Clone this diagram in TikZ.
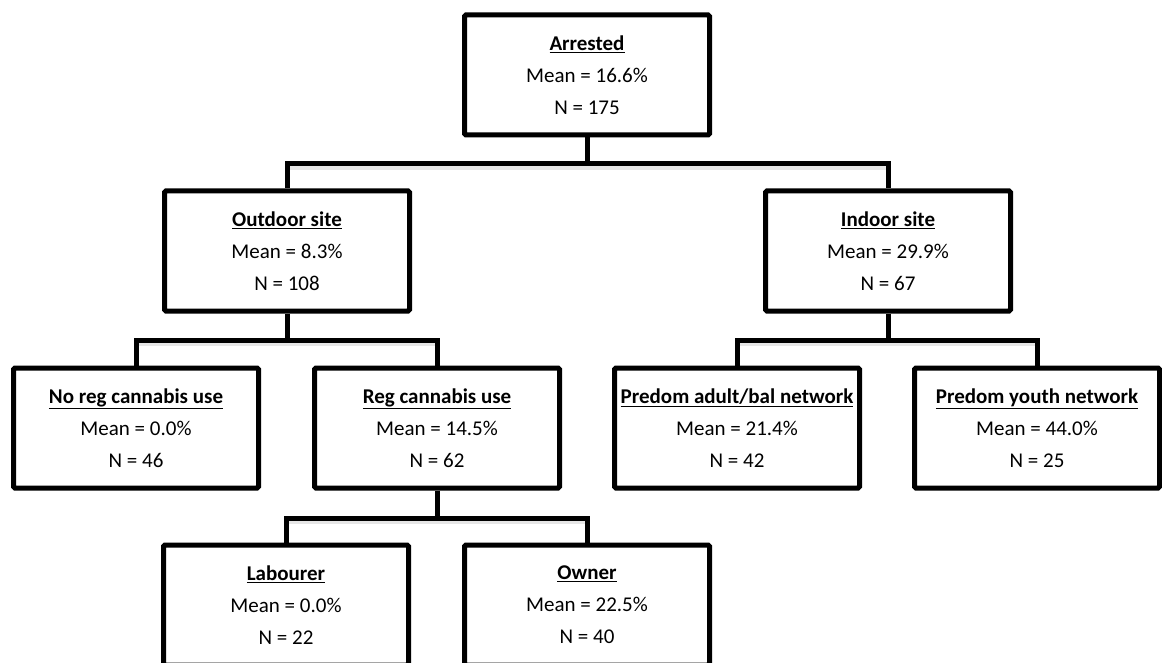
\documentclass[tikz,border=0pt]{standalone}
\usepackage{fontspec}
\setmainfont{Carlito}
\begin{document}
\begin{tikzpicture}[x=1pt,y=-1pt,
  box/.style={draw=black,line width=5pt,rounded corners=1.5pt,fill=white,
    minimum width=245pt,minimum height=120pt,inner sep=0pt,align=center,
    font=\fontsize{21}{32}\selectfont},
  conn/.style={draw=black,line width=5pt,line join=miter},
  shad/.style={draw=gray,line width=4pt,opacity=0.2}]
\useasboundingbox (0,0) rectangle (1162,663);
\clip (0,0) rectangle (1162,663);
\newcommand{\tl}[1]{\textbf{\underline{#1}}}
% junctions
\coordinate (j1) at (587,164);
\coordinate (j2) at (287,340);
\coordinate (j3) at (888,340);
\coordinate (j4) at (437,518);
% nodes
\node[box] (arr) at (587,75) {\tl{Arrested}\\Mean = 16.6\%\\N = 175};
\node[box] (out) at (287,251) {\tl{Outdoor site}\\Mean = 8.3\%\\N = 108};
\node[box] (ind) at (888,251) {\tl{Indoor site}\\Mean = 29.9\%\\N = 67};
\node[box] (noreg) at (136,428) {\tl{No reg cannabis use}\\Mean = 0.0\%\\N = 46};
\node[box] (reg) at (437,428) {\tl{Reg cannabis use}\\Mean = 14.5\%\\N = 62};
\node[box] (adult) at (737,428) {\tl{Predom adult/bal network}\\Mean = 21.4\%\\N = 42};
\node[box] (youth) at (1037,428) {\tl{Predom youth network}\\Mean = 44.0\%\\N = 25};
\node[box] (lab) at (286,605) {\tl{Labourer}\\Mean = 0.0\%\\N = 22};
\node[box] (own) at (587,605) {\tl{Owner}\\Mean = 22.5\%\\N = 40};
% shadows
\draw[shad] ([yshift=-4pt]out.north |- j1) -- ([yshift=-4pt]ind.north |- j1);
\draw[shad] ([yshift=-4pt]noreg.north |- j2) -- ([yshift=-4pt]reg.north |- j2);
\draw[shad] ([yshift=-4pt]adult.north |- j3) -- ([yshift=-4pt]youth.north |- j3);
\draw[shad] ([yshift=-4pt]lab.north |- j4) -- ([yshift=-4pt]own.north |- j4);
% connectors
\draw[conn] (arr.south) -- (j1);
\draw[conn] (out.north) -- (out.north |- j1) -- (ind.north |- j1) -- (ind.north);
\draw[conn] (out.south) -- (j2);
\draw[conn] (noreg.north) -- (noreg.north |- j2) -- (reg.north |- j2) -- (reg.north);
\draw[conn] (ind.south) -- (j3);
\draw[conn] (adult.north) -- (adult.north |- j3) -- (youth.north |- j3) -- (youth.north);
\draw[conn] (reg.south) -- (j4);
\draw[conn] (lab.north) -- (lab.north |- j4) -- (own.north |- j4) -- (own.north);
\end{tikzpicture}
\end{document}
